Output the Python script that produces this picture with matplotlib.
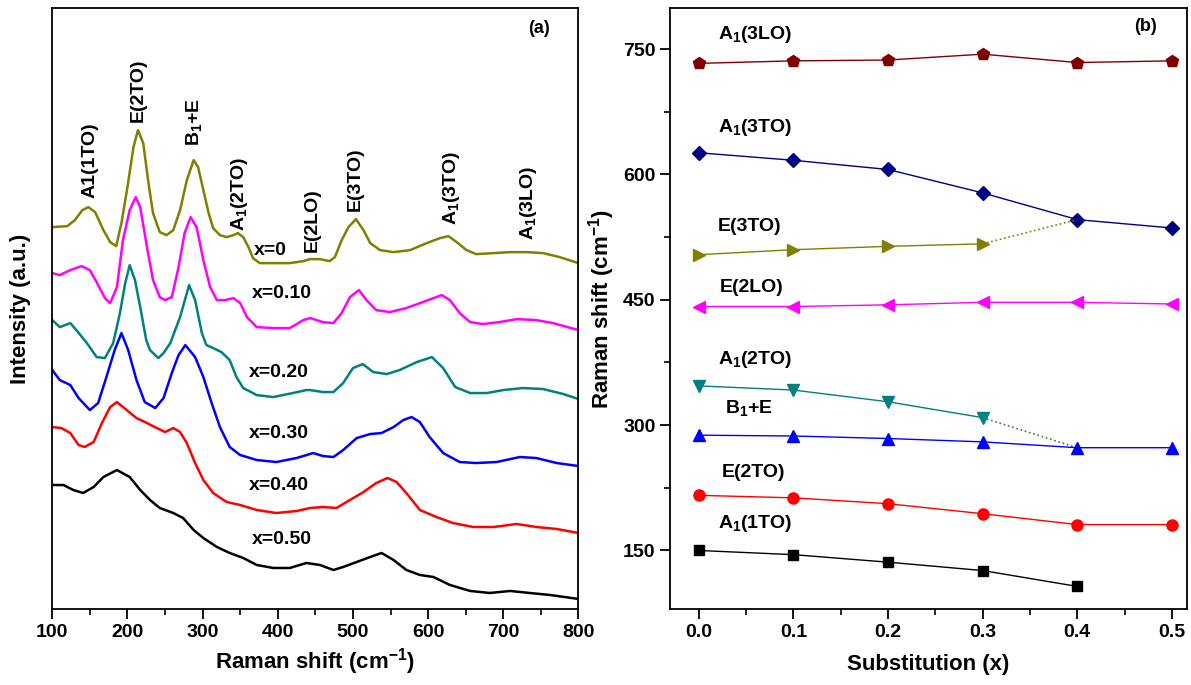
import matplotlib
matplotlib.use("Agg")
import matplotlib.pyplot as plt
from matplotlib.ticker import MultipleLocator

plt.rcParams['font.family'] = ['Liberation Sans', 'DejaVu Sans']
plt.rcParams['font.weight'] = 'bold'
plt.rcParams['mathtext.fontset'] = 'custom'
plt.rcParams['mathtext.rm'] = 'Liberation Sans:bold'
plt.rcParams['mathtext.bf'] = 'Liberation Sans:bold'
plt.rcParams['mathtext.default'] = 'bf'

# ---- (a) Raman spectra (intensity in arbitrary units)
wn_00 = [100, 120, 130, 140, 148, 157, 168, 177, 185, 192, 200, 208, 214, 221, 228, 234, 243, 252, 261, 270,
         279, 288, 294, 301, 308, 314, 323, 332, 341, 347, 354, 361, 367, 376, 394, 416, 434, 443, 456, 469,
         476, 485, 494, 504, 514, 523, 536, 554, 576, 598, 616, 627, 638, 651, 664, 687, 709, 731, 753, 775, 800]
in_00 = [382, 383, 389, 399, 402, 397, 379, 367, 363, 386, 422, 462, 479, 466, 426, 396, 377, 374, 379, 399,
         429, 449, 442, 419, 396, 381, 374, 372, 374, 376, 372, 362, 351, 346, 346, 346, 348, 350, 350, 348,
         352, 369, 382, 390, 379, 366, 359, 357, 359, 366, 371, 373, 367, 359, 355, 356, 357, 357, 356, 352, 346]

wn_10 = [100, 110, 124, 139, 150, 159, 170, 177, 186, 194, 203, 211, 217, 226, 234, 243, 250, 259, 268, 276,
         284, 292, 301, 310, 319, 330, 341, 350, 359, 372, 394, 416, 434, 443, 460, 474, 485, 496, 508, 518,
         531, 549, 571, 593, 618, 629, 642, 656, 673, 695, 718, 744, 766, 800]
in_10 = [336, 334, 339, 343, 339, 327, 311, 306, 322, 369, 399, 412, 402, 362, 329, 312, 309, 312, 342, 376,
         392, 382, 349, 322, 309, 309, 311, 306, 292, 282, 281, 281, 289, 291, 287, 286, 296, 312, 319, 309,
         299, 297, 301, 307, 314, 309, 296, 287, 285, 287, 290, 289, 286, 279]

wn_20 = [100, 110, 124, 132, 146, 159, 170, 181, 190, 197, 203, 210, 217, 225, 230, 241, 248, 257, 270, 282,
         290, 299, 305, 314, 325, 336, 345, 354, 372, 394, 420, 438, 443, 460, 474, 487, 500, 513, 527, 545,
         562, 585, 605, 620, 636, 656, 678, 700, 726, 753, 780, 800]
in_20 = [289, 282, 286, 279, 266, 252, 251, 266, 296, 326, 344, 329, 302, 269, 259, 251, 256, 266, 292, 324,
         309, 276, 264, 261, 257, 249, 232, 221, 214, 212, 216, 219, 219, 217, 217, 226, 241, 245, 237, 235,
         239, 247, 252, 241, 222, 216, 216, 219, 221, 220, 215, 210]

wn_30 = [100, 110, 124, 135, 150, 161, 172, 183, 192, 201, 212, 223, 237, 248, 259, 268, 277, 290, 301, 312,
         323, 336, 350, 372, 398, 425, 447, 460, 474, 487, 505, 523, 538, 554, 567, 578, 589, 602, 620, 642,
         664, 691, 722, 744, 771, 800]
in_30 = [239, 229, 224, 211, 199, 206, 232, 259, 276, 259, 229, 207, 201, 211, 236, 254, 264, 252, 232, 206,
         182, 162, 154, 149, 147, 151, 156, 153, 152, 159, 171, 175, 176, 182, 189, 192, 187, 172, 156, 147,
         146, 147, 152, 151, 146, 143]

wn_40 = [100, 112, 124, 135, 143, 155, 166, 177, 186, 199, 212, 226, 239, 250, 261, 270, 279, 290, 301, 314,
         332, 350, 372, 398, 425, 443, 460, 478, 496, 514, 531, 546, 558, 571, 589, 611, 633, 660, 687, 718,
         744, 771, 800]
in_40 = [182, 181, 176, 164, 162, 167, 186, 202, 207, 199, 191, 186, 181, 177, 181, 177, 166, 146, 129, 116,
         107, 104, 99, 96, 98, 101, 102, 101, 109, 117, 126, 131, 127, 116, 99, 92, 86, 82, 82, 85,
         82, 80, 76]

wn_50 = [100, 115, 128, 141, 155, 168, 186, 203, 217, 230, 243, 261, 274, 288, 301, 319, 336, 354, 372, 394,
         416, 438, 456, 474, 487, 505, 523, 538, 554, 571, 589, 607, 629, 656, 682, 709, 735, 762, 800]
in_50 = [124, 124, 119, 116, 122, 132, 139, 132, 119, 109, 101, 96, 91, 79, 71, 62, 56, 51, 44, 41,
         41, 46, 44, 39, 42, 47, 52, 56, 49, 39, 34, 32, 24, 18, 16, 18, 16, 14, 10]

spectra = [(wn_00, in_00, '#808000', 'x=0', 390, 359),
           (wn_10, in_10, '#ff00ff', 'x=0.10', 405, 316),
           (wn_20, in_20, '#008080', 'x=0.20', 402, 237),
           (wn_30, in_30, '#0000ff', 'x=0.30', 401, 176),
           (wn_40, in_40, '#ff0000', 'x=0.40', 402, 124),
           (wn_50, in_50, '#000000', 'x=0.50', 405, 69)]

peak_labels = ['A1(1TO)', 'E(2TO)', r'B$_1$+E', r'A$_1$(2TO)', 'E(2LO)', 'E(3TO)', r'A$_1$(3TO)', r'A$_1$(3LO)']
peak_pos = [150, 215, 288, 349, 446, 503, 631, 733]
peak_y = [449, 519, 487, 415, 389, 430, 421, 406]

# ---- (b) mode positions vs substitution
subst = [0.0, 0.1, 0.2, 0.3, 0.4, 0.5]
a1_3lo = [733, 736, 737, 744, 734, 736]
a1_3to = [626, 617, 606, 578, 546, 536]
e_3to = [504, 510, 514, 517]
e_2lo = [442, 442, 444, 447, 447, 445]
a1_2to = [347, 342, 328, 309]
b1_e = [288, 287, 284, 280, 273, 273]
e_2to = [216, 213, 206, 194, 181, 181]
a1_1to = [150, 145, 136, 126, 107]

fig = plt.figure(figsize=(11.91, 6.85), dpi=100)
ax1 = fig.add_axes([0.0439, 0.111, 0.4418, 0.877])
ax2 = fig.add_axes([0.5626, 0.111, 0.434, 0.877])

for wn, inten, col, lab, lx, ly in spectra:
    ax1.plot(wn, inten, color=col, lw=1.8)
    ax1.text(lx, ly, lab, fontsize=14, fontweight='bold', ha='center', va='center')
for lab, px, py in zip(peak_labels, peak_pos, peak_y):
    ax1.text(px, py, lab, fontsize=14, fontweight='bold', rotation=90, ha='center', va='center')
ax1.text(748, 581, '(a)', fontsize=13, fontweight='bold', ha='center', va='center')

ax1.set_xlim(100, 800)
ax1.set_ylim(0, 601)
ax1.set_yticks([])
ax1.xaxis.set_major_locator(MultipleLocator(100))
ax1.xaxis.set_minor_locator(MultipleLocator(50))
ax1.set_xlabel(r'Raman shift (cm$^{-1}$)', fontsize=16, fontweight='bold')
ax1.set_ylabel('Intensity (a.u.)', fontsize=16, fontweight='bold')
ax1.yaxis.set_label_coords(-0.04, 0.5)

ax2.plot(subst, a1_3lo, color='#800000', lw=1, marker='p', ms=9)
ax2.plot(subst, a1_3to, color='#000080', lw=1, marker='D', ms=7)
ax2.plot(subst[:4], e_3to, color='#808000', lw=1, marker='>', ms=9)
ax2.plot([subst[3], subst[4]], [e_3to[3], a1_3to[4]], color='#808000', lw=1.2, ls=':')
ax2.plot(subst, e_2lo, color='#ff00ff', lw=1, marker='<', ms=9)
ax2.plot(subst[:4], a1_2to, color='#008080', lw=1, marker='v', ms=9)
ax2.plot([subst[3], subst[4]], [a1_2to[3], b1_e[4]], color='#2e8b22', lw=1.2, ls=':')
ax2.plot(subst, b1_e, color='#0000ff', lw=1, marker='^', ms=9)
ax2.plot(subst, e_2to, color='#ff0000', lw=1, marker='o', ms=8)
ax2.plot(subst[:5], a1_1to, color='#000000', lw=1, marker='s', ms=7)

mode_labels = [r'A$_1$(3LO)', r'A$_1$(3TO)', 'E(3TO)', 'E(2LO)', r'A$_1$(2TO)', r'B$_1$+E', 'E(2TO)', r'A$_1$(1TO)']
mode_lx = [0.02, 0.02, 0.02, 0.022, 0.02, 0.028, 0.024, 0.02]
mode_ly = [767, 656, 538, 465, 378, 320, 243, 182]
for lab, lx, ly in zip(mode_labels, mode_lx, mode_ly):
    ax2.text(lx, ly, lab, fontsize=14, fontweight='bold', ha='left', va='center')
ax2.text(0.472, 777, '(b)', fontsize=13, fontweight='bold', ha='center', va='center')

ax2.set_xlim(-0.0304, 0.516)
ax2.set_ylim(80, 799)
ax2.xaxis.set_major_locator(MultipleLocator(0.1))
ax2.xaxis.set_minor_locator(MultipleLocator(0.05))
ax2.yaxis.set_major_locator(MultipleLocator(150))
ax2.yaxis.set_minor_locator(MultipleLocator(75))
ax2.set_xlabel('Substitution (x)', fontsize=16, fontweight='bold', labelpad=10)
ax2.set_ylabel(r'Raman shift (cm$^{-1}$)', fontsize=16, fontweight='bold')

for ax in (ax1, ax2):
    for s in ax.spines.values():
        s.set_linewidth(1.3)
    ax.tick_params(which='major', direction='out', length=7, width=1.3, labelsize=14)
    ax.tick_params(which='minor', direction='out', length=4, width=1.2)
    for t in ax.get_xticklabels() + ax.get_yticklabels():
        t.set_fontweight('bold')

fig.savefig('out.png', dpi=100)
